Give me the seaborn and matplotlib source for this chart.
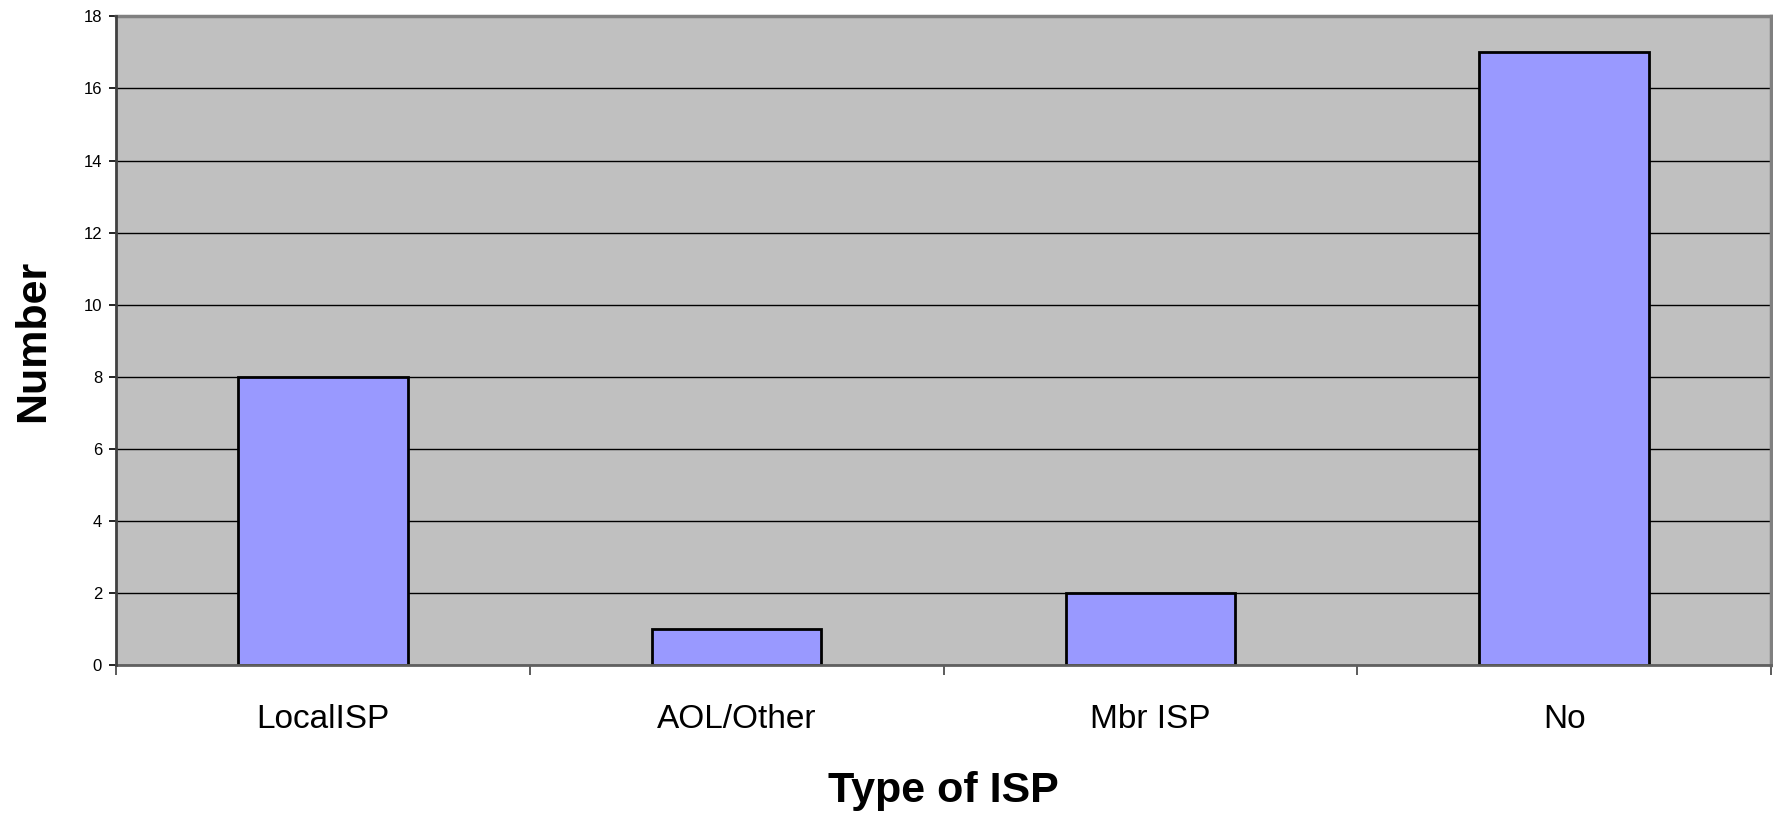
import matplotlib
matplotlib.use("Agg")
import matplotlib.pyplot as plt
import seaborn as sns
import pandas as pd

isp_types = ['LocalISP', 'AOL/Other', 'Mbr ISP', 'No']
counts = [8, 1, 2, 17]
y_ticks = [0, 2, 4, 6, 8, 10, 12, 14, 16, 18]

df = pd.DataFrame({'Type': isp_types, 'Number': counts})

sns.set_style("white")
plt.rcParams['font.family'] = ['Liberation Sans', 'DejaVu Sans']
plt.rcParams['text.color'] = 'black'
plt.rcParams['axes.labelcolor'] = 'black'
plt.rcParams['xtick.color'] = 'black'
plt.rcParams['ytick.color'] = 'black'

fig = plt.figure(figsize=(17.73, 8.19), dpi=100)
ax = fig.add_axes([0.0654, 0.188, 0.9335, 0.792])
ax.set_facecolor('#C0C0C0')

sns.barplot(data=df, x='Type', y='Number', color='#9999FF', saturation=1,
            edgecolor='black', linewidth=2, width=0.41, ax=ax)

ax.set_ylim(0, 18)
ax.set_xlim(-0.5, len(isp_types) - 0.5)
ax.set_yticks(y_ticks)
ax.set_yticklabels([str(t) for t in y_ticks], fontsize=12)
ax.yaxis.grid(True, color='black', linewidth=1)
ax.set_axisbelow(True)

# category labels at centres, tick marks at the boundaries
ax.set_xticks(range(len(isp_types)))
ax.set_xticklabels(isp_types, fontsize=24)
ax.tick_params(axis='x', which='major', length=0, pad=28)
ax.set_xticks([i - 0.5 for i in range(len(isp_types) + 1)], minor=True)
ax.tick_params(axis='x', which='minor', bottom=True, length=7, width=1.2,
               color='#404040', direction='out')
ax.tick_params(axis='y', length=5, width=1.2, color='black', direction='out', pad=5, left=True)

ax.set_xlabel('Type of ISP', fontsize=31, fontweight='bold', labelpad=26)
ax.set_ylabel('Number', fontsize=31, fontweight='bold', labelpad=22)

for side in ['top', 'right']:
    ax.spines[side].set_color('#808080')
    ax.spines[side].set_linewidth(2.5)
ax.spines['left'].set_color('#404040')
ax.spines['left'].set_linewidth(2)
ax.spines['bottom'].set_color('#606060')
ax.spines['bottom'].set_linewidth(2)
ax.spines['left'].set_zorder(5)

fig.savefig('out.png', dpi=100)
